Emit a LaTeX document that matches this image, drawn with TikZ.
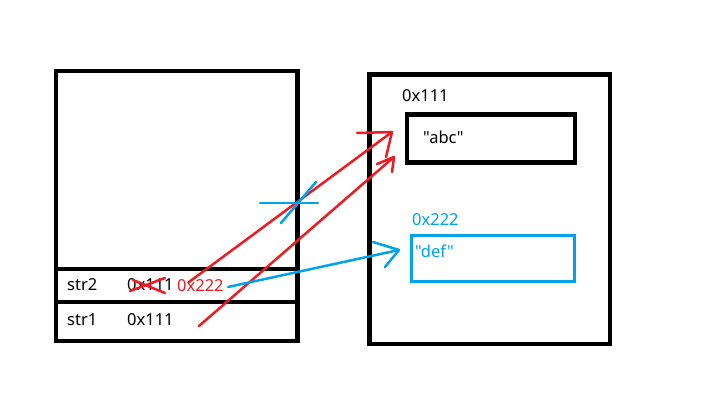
\documentclass[tikz,border=0pt]{standalone}
\usepackage{fontspec}
\setmainfont{Noto Sans}[Ligatures=TeXOff]
\definecolor{pred}{HTML}{ED1C24}
\definecolor{pblue}{HTML}{00A2E8}
\begin{document}
\begin{tikzpicture}[x=1pt,y=-1pt,
  txt/.style={anchor=base west,inner sep=0pt,font=\fontsize{16.5}{19}\selectfont},
  blk/.style={draw=black,line width=4.5pt},
  redl/.style={draw=pred,line width=2.5pt,line cap=round,line join=round},
  bluel/.style={draw=pblue,line width=2.5pt,line cap=round,line join=round}]
\useasboundingbox[fill=white] (0,0) rectangle (714,410);
% left (stack) box
\draw[blk] (56,71) rectangle (297.5,341);
\draw[blk] (56,269) -- (297.5,269);
\draw[blk] (56,302) -- (297.5,302);
% right (heap) box
\draw[blk] (369.5,74.5) rectangle (610,344);
\draw[blk] (407,114.5) rectangle (575,162.5);
\draw[draw=pblue,line width=3pt] (411,235) rectangle (574,281.5);
% texts
\node[txt] (addr1) at (402,101) {0x111};
\node[txt] (abc) at (423,143) {"abc"};
\node[txt,text=pblue] (addr2) at (412,225) {0x222};
\node[txt,text=pblue] (def) at (415,257) {"def"};
\node[txt] (s2) at (67,290) {str2};
\node[txt] (s2v) at (127,290) {0x111};
\node[txt,text=pred] (s2n) at (177,291) {0x222};
\node[txt] (s1) at (67,325) {str1};
\node[txt] (s1v) at (127,325) {0x111};
% red cross over old value
\draw[redl] (130,291) -- (165,278);
\draw[redl] (133,280) -- (165,293);
% arrows str2 (old) and str1 to "abc"
\coordinate (a1s) at (189,282);
\coordinate (a1t) at (392,132);
\draw[redl] (a1s) -- (a1t);
\draw[redl] (357,133) -- (a1t) -- (386,157);
\coordinate (a2s) at (199,326);
\coordinate (a2t) at (394,157);
\draw[redl] (a2s) -- (a2t);
\draw[redl] (377,164) -- (a2t) -- (392,172);
% blue cross on the cut arrow
\draw[bluel] (260,203) -- (318,203);
\draw[bluel] (281,223) -- (316,182);
% blue arrow str2 -> "def"
\coordinate (b1s) at (228,287);
\coordinate (b1t) at (399,250);
\draw[bluel] (b1s) -- (b1t);
\draw[bluel] (373,242) -- (b1t) -- (385,267);
\end{tikzpicture}
\end{document}
